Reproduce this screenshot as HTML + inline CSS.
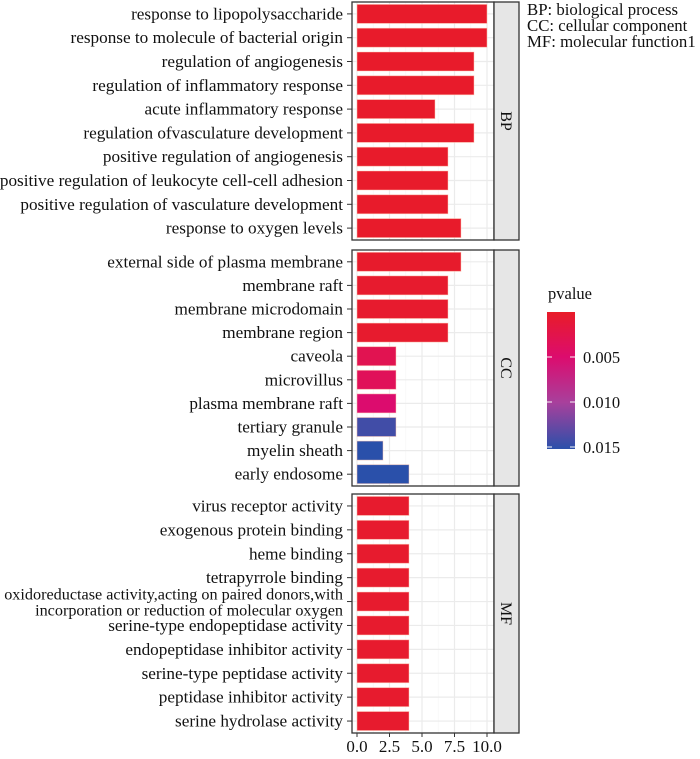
<!DOCTYPE html>
<html><head><meta charset="utf-8"><style>
body{margin:0;background:#fff;width:700px;height:754px;overflow:hidden}
text{font-family:"Liberation Serif",serif;fill:#111}
</style></head><body>
<svg id="chart" width="700" height="754" xmlns="http://www.w3.org/2000/svg">
<defs><linearGradient id="pg" x1="0" y1="0" x2="0" y2="1">
<stop offset="0" stop-color="#e81c28"/><stop offset="0.33" stop-color="#dc0c6e"/><stop offset="0.66" stop-color="#a8409c"/><stop offset="1" stop-color="#2a50aa"/></linearGradient></defs>
<g id="g"></g>
<text x="527" y="15" font-size="16.8">BP: biological process</text>
<text x="527" y="31" font-size="16.8">CC: cellular component</text>
<text x="527" y="47" font-size="16.8">MF: molecular function1</text>
<text x="548" y="299" font-size="16.5">pvalue</text>
<rect x="547" y="312" width="28" height="137" fill="url(#pg)"/>
<g stroke="#fff" stroke-width="1.2" opacity="0.8"><line x1="547" y1="357" x2="552" y2="357"/><line x1="570" y1="357" x2="575" y2="357"/><line x1="547" y1="402" x2="552" y2="402"/><line x1="570" y1="402" x2="575" y2="402"/><line x1="547" y1="447" x2="552" y2="447"/><line x1="570" y1="447" x2="575" y2="447"/></g>
<text x="583" y="363" font-size="16.5">0.005</text>
<text x="583" y="408" font-size="16.5">0.010</text>
<text x="583" y="453" font-size="16.5">0.015</text>
</svg>
<script>
const bpTerms=["response to lipopolysaccharide","response to molecule of bacterial origin","regulation of angiogenesis","regulation of inflammatory response","acute inflammatory response","regulation ofvasculature development","positive regulation of angiogenesis","positive regulation of leukocyte cell-cell adhesion","positive regulation of vasculature development","response to oxygen levels"];
const bpCounts=[10,10,9,9,6,9,7,7,7,8];
const bpP=[0.0003,0.0003,0.0003,0.0003,0.0003,0.0003,0.0003,0.0003,0.0003,0.0003];
const ccTerms=["external side of plasma membrane","membrane raft","membrane microdomain","membrane region","caveola","microvillus","plasma membrane raft","tertiary granule","myelin sheath","early endosome"];
const ccCounts=[8,7,7,7,3,3,3,3,2,4];
const ccP=[0.0004,0.0005,0.0005,0.0005,0.003,0.0035,0.005,0.0145,0.0155,0.0155];
const mfTerms=["virus receptor activity","exogenous protein binding","heme binding","tetrapyrrole binding","oxidoreductase activity,acting on paired donors,with|incorporation or reduction of molecular oxygen","serine-type endopeptidase activity","endopeptidase inhibitor activity","serine-type peptidase activity","peptidase inhibitor activity","serine hydrolase activity"];
const mfCounts=[4,4,4,4,4,4,4,4,4,4];
const mfP=[0.0005,0.0005,0.0005,0.0005,0.0005,0.0005,0.0005,0.0005,0.0005,0.0005];
const xTicks=[0,2.5,5,7.5,10];
const xTickLabels=["0.0","2.5","5.0","7.5","10.0"];
const panelNames=["BP","CC","MF"];

const NS="http://www.w3.org/2000/svg",g=document.getElementById('g');
const x=v=>357+v*13;
const stops=[[0.0001,[232,28,40]],[0.005,[220,12,110]],[0.010,[168,64,156]],[0.0155,[42,80,170]]];
function col(p){for(let i=0;i<stops.length-1;i++){const[a,ca]=stops[i],[b,cb]=stops[i+1];if(p<=b||i==stops.length-2){let t=Math.max(0,Math.min(1,(p-a)/(b-a)));return`rgb(${ca.map((c,k)=>Math.round(c+(cb[k]-c)*t)).join(',')})`;}}}
function el(t,a,parent){const e=document.createElementNS(NS,t);for(const k in a)e.setAttribute(k,a[k]);(parent||g).appendChild(e);return e;}
const panels=[[bpTerms,bpCounts,bpP,2,240],[ccTerms,ccCounts,ccP,250,486],[mfTerms,mfCounts,mfP,494,733]];
panels.forEach(([terms,counts,ps,top,bot],pi)=>{
  const pg=el('g',{});
  
  
  el('rect',{x:352,y:top,width:142,height:bot-top,fill:'#fff'},pg);
  const n=terms.length,step=(bot-top)/n;
  const yc=i=>top+step*(i+0.5);
  xTicks.forEach((t,i)=>{el('line',{x1:x(t),x2:x(t),y1:top,y2:bot,stroke:'#ebebeb','stroke-width':1.2},pg);if(i<xTicks.length-1)el('line',{x1:x(t+1.25),x2:x(t+1.25),y1:top,y2:bot,stroke:'#f5f5f5','stroke-width':0.6},pg);});
  for(let i=0;i<n;i++)el('line',{x1:352,x2:494,y1:yc(i),y2:yc(i),stroke:'#ebebeb','stroke-width':1.2},pg);
  for(let i=0;i<n;i++){
    const b=el('rect',{x:x(0),y:yc(i)-9.5,width:x(counts[i])-x(0),height:19,fill:col(ps[i]),stroke:'rgba(255,200,180,0.6)','stroke-width':0.8},pg);
    
    
    el('line',{x1:347,x2:352,y1:yc(i),y2:yc(i),stroke:'#333','stroke-width':1},pg);
    const parts=terms[i].split('|');
    if(parts.length>1){
      parts.forEach((s,k)=>{const t=el('text',{x:343,y:yc(i)+(k===0?-2:14),'text-anchor':'end','font-size':16.2},pg);t.textContent=s;});
    }else{
      const t=el('text',{x:343,y:yc(i)+5.5,'text-anchor':'end','font-size':17.2},pg);t.textContent=terms[i];
      
      
    }
  }
  el('rect',{x:352,y:top,width:142,height:bot-top,fill:'none',stroke:'#333','stroke-width':1.3},pg);
  const s=el('rect',{x:494,y:top,width:25,height:bot-top,fill:'#e6e6e6',stroke:'#333','stroke-width':1.3},pg);
  
  
  const st=el('text',{x:0,y:0,'font-size':16,'text-anchor':'middle',transform:`translate(501,${(top+bot)/2}) rotate(90)`},pg);
  st.textContent=panelNames[pi];
});
xTicks.forEach((t,i)=>{
  el('line',{x1:x(t),x2:x(t),y1:733,y2:737,stroke:'#333','stroke-width':1});
  const l=el('text',{x:x(t),y:752,'text-anchor':'middle','font-size':17});
  l.textContent=xTickLabels[i];
  
  
});
</script>
</body></html>
